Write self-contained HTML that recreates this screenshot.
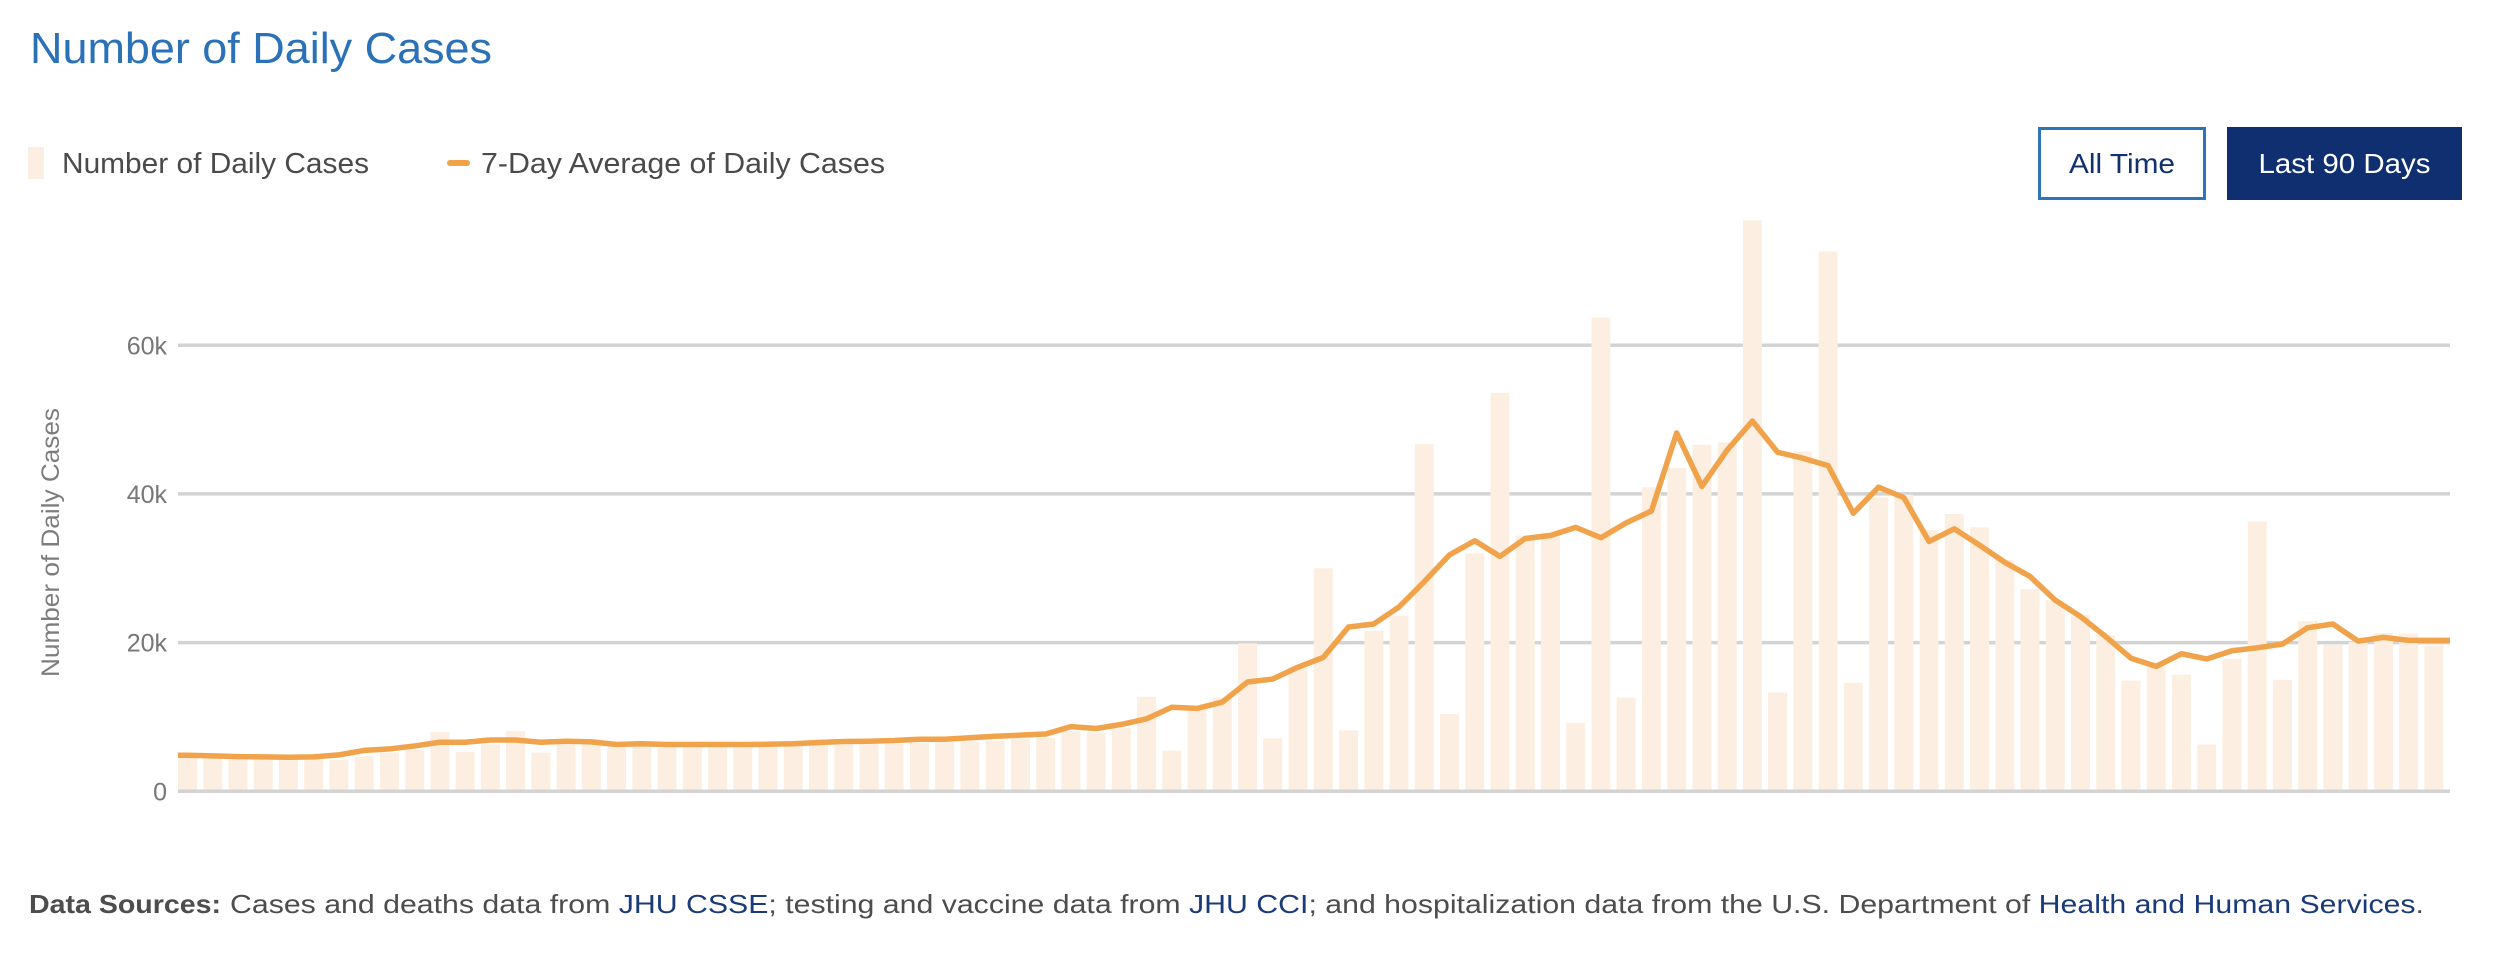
<!DOCTYPE html>
<html>
<head>
<meta charset="utf-8">
<style>
  html, body { margin:0; padding:0; background:#ffffff; }
  body { width:2508px; height:964px; overflow:hidden; }
  svg { display:block; font-family:"Liberation Sans", Arial, sans-serif; }
</style>
</head>
<body>
<svg width="2508" height="964" viewBox="0 0 2508 964" xmlns="http://www.w3.org/2000/svg">
  <rect x="0" y="0" width="2508" height="964" fill="#ffffff"/>

  <!-- Title -->
  <text x="30" y="63" font-size="44" fill="#2b71b8" textLength="462" lengthAdjust="spacingAndGlyphs">Number of Daily Cases</text>

  <!-- Legend -->
  <rect x="28" y="147" width="16" height="32" fill="#fcefe2"/>
  <text x="62" y="173" font-size="29" fill="#4a4a4a" textLength="307" lengthAdjust="spacingAndGlyphs">Number of Daily Cases</text>
  <rect x="447" y="160" width="23" height="6" rx="3" fill="#f0a34a"/>
  <text x="481" y="173" font-size="29" fill="#4a4a4a" textLength="404" lengthAdjust="spacingAndGlyphs">7-Day Average of Daily Cases</text>

  <!-- Buttons -->
  <rect x="2039.5" y="128.5" width="165" height="70" fill="#ffffff" stroke="#2e74b6" stroke-width="3"/>
  <text x="2122" y="173" font-size="28" fill="#12306e" text-anchor="middle" textLength="106" lengthAdjust="spacingAndGlyphs">All Time</text>
  <rect x="2227" y="127" width="235" height="73" fill="#0f2f70"/>
  <text x="2344.5" y="173" font-size="28" fill="#ffffff" text-anchor="middle" textLength="172" lengthAdjust="spacingAndGlyphs">Last 90 Days</text>

  <!-- Gridlines -->
  <g stroke="#d3d3d3" stroke-width="3.5">
    <line x1="178" y1="345.2" x2="2450" y2="345.2"/>
    <line x1="178" y1="493.9" x2="2450" y2="493.9"/>
    <line x1="178" y1="642.6" x2="2450" y2="642.6"/>
  </g>

  <!-- Y tick labels -->
  <g font-size="25" fill="#777777" text-anchor="end">
    <text x="167" y="354.3">60k</text>
    <text x="167" y="503">40k</text>
    <text x="167" y="651.7">20k</text>
    <text x="167" y="800.3">0</text>
  </g>

  <!-- Y axis title -->
  <text transform="translate(59,542.5) rotate(-90)" font-size="25" fill="#7d7d7d" text-anchor="middle" textLength="269" lengthAdjust="spacingAndGlyphs">Number of Daily Cases</text>

  <!-- Bars -->
  <g transform="translate(0,791.3) scale(1,-7.435)" fill="#fcefe2">
    <rect x="178.0" y="0" width="19" height="4.5"/>
    <rect x="203.24" y="0" width="19" height="4.4"/>
    <rect x="228.48" y="0" width="19" height="4.3"/>
    <rect x="253.72" y="0" width="19" height="4.3"/>
    <rect x="278.96" y="0" width="19" height="4.3"/>
    <rect x="304.2" y="0" width="19" height="4.3"/>
    <rect x="329.44" y="0" width="19" height="4.2"/>
    <rect x="354.68" y="0" width="19" height="4.7"/>
    <rect x="379.92" y="0" width="19" height="5.2"/>
    <rect x="405.16" y="0" width="19" height="5.6"/>
    <rect x="430.4" y="0" width="19" height="8.0"/>
    <rect x="455.64" y="0" width="19" height="5.3"/>
    <rect x="480.88" y="0" width="19" height="6.3"/>
    <rect x="506.12" y="0" width="19" height="8.1"/>
    <rect x="531.36" y="0" width="19" height="5.2"/>
    <rect x="556.6" y="0" width="19" height="6.4"/>
    <rect x="581.84" y="0" width="19" height="6.3"/>
    <rect x="607.08" y="0" width="19" height="5.9"/>
    <rect x="632.32" y="0" width="19" height="6.1"/>
    <rect x="657.56" y="0" width="19" height="5.9"/>
    <rect x="682.8" y="0" width="19" height="5.9"/>
    <rect x="708.04" y="0" width="19" height="5.9"/>
    <rect x="733.28" y="0" width="19" height="5.9"/>
    <rect x="758.52" y="0" width="19" height="6.0"/>
    <rect x="783.76" y="0" width="19" height="6.2"/>
    <rect x="809.0" y="0" width="19" height="6.2"/>
    <rect x="834.24" y="0" width="19" height="6.3"/>
    <rect x="859.48" y="0" width="19" height="6.4"/>
    <rect x="884.72" y="0" width="19" height="6.4"/>
    <rect x="909.96" y="0" width="19" height="6.5"/>
    <rect x="935.2" y="0" width="19" height="6.6"/>
    <rect x="960.44" y="0" width="19" height="6.7"/>
    <rect x="985.68" y="0" width="19" height="6.8"/>
    <rect x="1010.92" y="0" width="19" height="7.1"/>
    <rect x="1036.16" y="0" width="19" height="7.2"/>
    <rect x="1061.4" y="0" width="19" height="8.1"/>
    <rect x="1086.64" y="0" width="19" height="7.9"/>
    <rect x="1111.88" y="0" width="19" height="8.5"/>
    <rect x="1137.12" y="0" width="19" height="12.7"/>
    <rect x="1162.36" y="0" width="19" height="5.5"/>
    <rect x="1187.6" y="0" width="19" height="11.0"/>
    <rect x="1212.84" y="0" width="19" height="12.6"/>
    <rect x="1238.08" y="0" width="19" height="19.9"/>
    <rect x="1263.32" y="0" width="19" height="7.1"/>
    <rect x="1288.56" y="0" width="19" height="16.6"/>
    <rect x="1313.8" y="0" width="19" height="30.0"/>
    <rect x="1339.04" y="0" width="19" height="8.2"/>
    <rect x="1364.28" y="0" width="19" height="21.6"/>
    <rect x="1389.52" y="0" width="19" height="23.6"/>
    <rect x="1414.76" y="0" width="19" height="46.7"/>
    <rect x="1440.0" y="0" width="19" height="10.4"/>
    <rect x="1465.24" y="0" width="19" height="32.0"/>
    <rect x="1490.48" y="0" width="19" height="53.6"/>
    <rect x="1515.72" y="0" width="19" height="34.4"/>
    <rect x="1540.96" y="0" width="19" height="34.8"/>
    <rect x="1566.2" y="0" width="19" height="9.2"/>
    <rect x="1591.44" y="0" width="19" height="63.7"/>
    <rect x="1616.68" y="0" width="19" height="12.6"/>
    <rect x="1641.92" y="0" width="19" height="40.9"/>
    <rect x="1667.16" y="0" width="19" height="43.5"/>
    <rect x="1692.4" y="0" width="19" height="46.6"/>
    <rect x="1717.64" y="0" width="19" height="46.9"/>
    <rect x="1742.88" y="0" width="19" height="76.8"/>
    <rect x="1768.12" y="0" width="19" height="13.3"/>
    <rect x="1793.36" y="0" width="19" height="45.7"/>
    <rect x="1818.6" y="0" width="19" height="72.6"/>
    <rect x="1843.84" y="0" width="19" height="14.6"/>
    <rect x="1869.08" y="0" width="19" height="39.5"/>
    <rect x="1894.32" y="0" width="19" height="39.9"/>
    <rect x="1919.56" y="0" width="19" height="35.1"/>
    <rect x="1944.8" y="0" width="19" height="37.3"/>
    <rect x="1970.04" y="0" width="19" height="35.5"/>
    <rect x="1995.28" y="0" width="19" height="31.1"/>
    <rect x="2020.52" y="0" width="19" height="27.2"/>
    <rect x="2045.76" y="0" width="19" height="25.7"/>
    <rect x="2071.0" y="0" width="19" height="23.7"/>
    <rect x="2096.24" y="0" width="19" height="21.0"/>
    <rect x="2121.48" y="0" width="19" height="14.9"/>
    <rect x="2146.72" y="0" width="19" height="16.8"/>
    <rect x="2171.96" y="0" width="19" height="15.7"/>
    <rect x="2197.2" y="0" width="19" height="6.3"/>
    <rect x="2222.44" y="0" width="19" height="17.8"/>
    <rect x="2247.68" y="0" width="19" height="36.3"/>
    <rect x="2272.92" y="0" width="19" height="15.0"/>
    <rect x="2298.16" y="0" width="19" height="22.9"/>
    <rect x="2323.4" y="0" width="19" height="19.7"/>
    <rect x="2348.64" y="0" width="19" height="20.1"/>
    <rect x="2373.88" y="0" width="19" height="21.3"/>
    <rect x="2399.12" y="0" width="19" height="21.2"/>
    <rect x="2424.36" y="0" width="19" height="19.6"/>
  </g>

  <!-- Zero baseline -->
  <line x1="178" y1="791.3" x2="2450" y2="791.3" stroke="#d3d3d3" stroke-width="3.5"/>

  <!-- 7-day average line -->
  <g transform="translate(0,791.3) scale(1,-7.435)">
    <polyline fill="none" stroke="#f0a34a" stroke-width="5.5" stroke-linejoin="round" stroke-linecap="butt" vector-effect="non-scaling-stroke"
      points="178,4.85 187.5,4.85 212.74,4.76 237.98,4.67 263.22,4.63 288.46,4.58 313.7,4.63 338.94,4.9 364.18,5.5 389.42,5.7 414.66,6.1 439.9,6.6 465.14,6.6 490.38,6.9 515.62,6.9 540.86,6.6 566.1,6.74 591.34,6.65 616.58,6.3 641.82,6.4 667.06,6.3 692.3,6.3 717.54,6.3 742.78,6.3 768.02,6.32 793.26,6.4 818.5,6.56 843.74,6.7 868.98,6.74 894.22,6.83 919.46,7.0 944.7,7.0 969.94,7.2 995.18,7.4 1020.42,7.55 1045.66,7.7 1070.9,8.7 1096.14,8.45 1121.38,9.0 1146.62,9.75 1171.86,11.3 1197.1,11.15 1222.34,12.0 1247.58,14.7 1272.82,15.1 1298.06,16.7 1323.3,18.0 1348.54,22.1 1373.78,22.5 1399.02,24.8 1424.26,28.2 1449.5,31.8 1474.74,33.7 1499.98,31.6 1525.22,34.0 1550.46,34.4 1575.7,35.5 1600.94,34.1 1626.18,36.1 1651.42,37.7 1676.66,48.2 1701.9,41.0 1727.14,45.9 1752.38,49.8 1777.62,45.6 1802.86,44.8 1828.1,43.8 1853.34,37.4 1878.58,40.9 1903.82,39.5 1929.06,33.6 1954.3,35.3 1979.54,33.1 2004.78,30.8 2030.02,28.9 2055.26,25.7 2080.5,23.5 2105.74,20.8 2130.98,17.9 2156.22,16.8 2181.46,18.5 2206.7,17.8 2231.94,18.9 2257.18,19.3 2282.42,19.8 2307.66,22.0 2332.9,22.5 2358.14,20.2 2383.38,20.7 2408.62,20.3 2433.86,20.3 2450,20.3"/>
  </g>

  <!-- Footer -->
  <text x="29" y="913" font-size="26" font-weight="bold" fill="#4d4d4d" textLength="192" lengthAdjust="spacingAndGlyphs">Data Sources:</text>
  <text x="230" y="913" font-size="26" fill="#4d4d4d" textLength="2194" lengthAdjust="spacingAndGlyphs">Cases and deaths data from <tspan fill="#1b3a7a">JHU CSSE</tspan>; testing and vaccine data from <tspan fill="#1b3a7a">JHU CCI</tspan>; and hospitalization data from the U.S. Department of <tspan fill="#1b3a7a">Health and Human Services</tspan>.</text>
</svg>
</body>
</html>
